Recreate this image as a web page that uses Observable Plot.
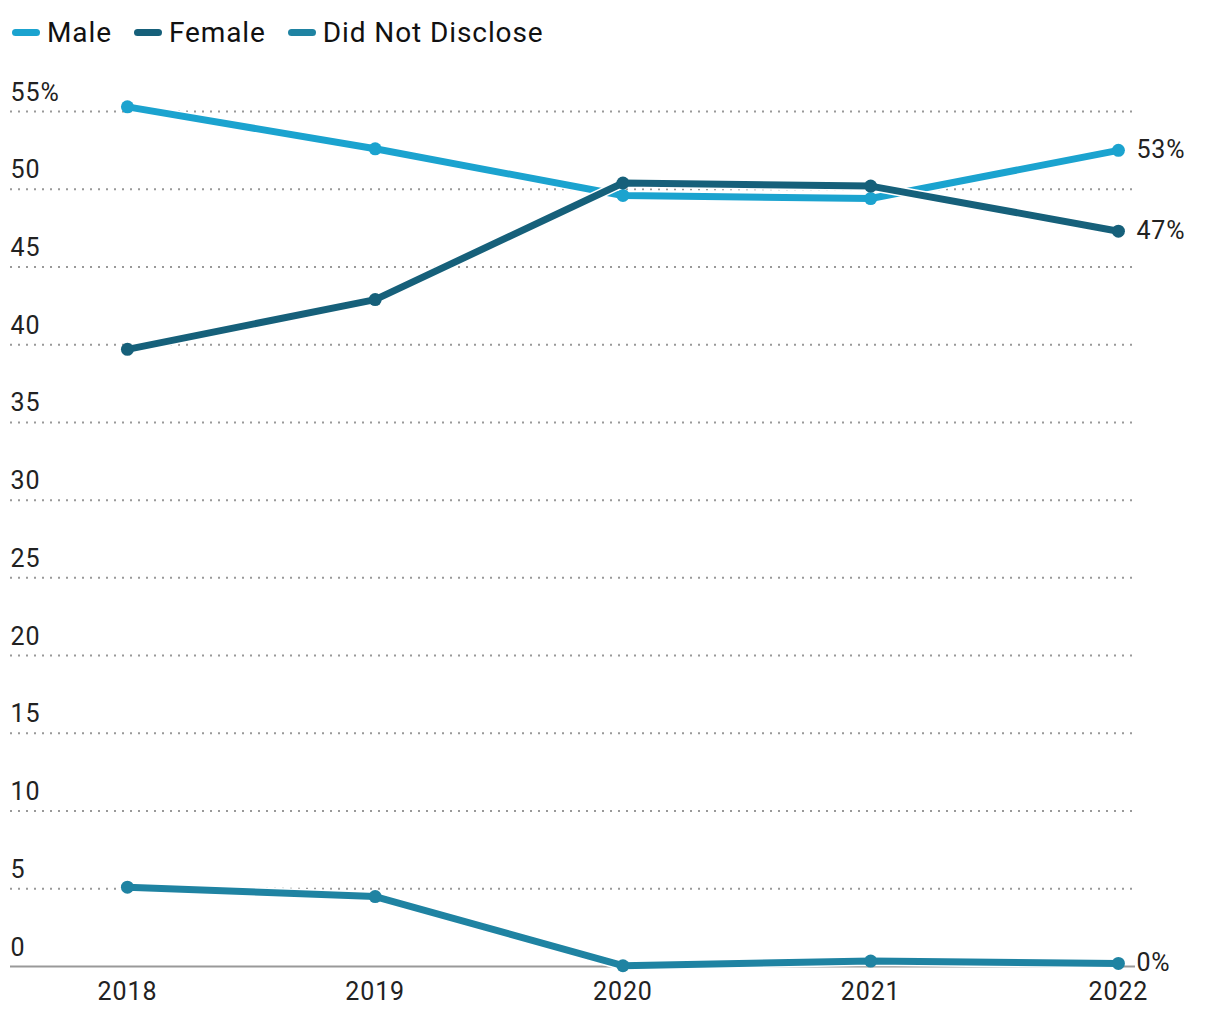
<!DOCTYPE html>
<html>
<head>
<meta charset="utf-8">
<script src="https://cdn.jsdelivr.net/npm/d3@7"></script>
<script src="https://cdn.jsdelivr.net/npm/@observablehq/plot@0.6"></script>
<style>
  body { margin: 0; background: #fff; font-family: Roboto, "Noto Sans", sans-serif; }
  #legend { height: 60px; display: flex; align-items: center; padding-left: 12px; padding-top: 5px; box-sizing: border-box; font-size: 28px; font-weight: 400; color: #111; letter-spacing: 0.9px; }
  .item { display: flex; align-items: center; margin-right: 22px; }
  .sw { width: 28px; height: 7px; border-radius: 4px; margin-right: 7px; }
  svg text { letter-spacing: 0.9px; }
</style>
</head>
<body>
<div id="legend"></div>
<div id="chart"></div>
<script>
const years = [2018, 2019, 2020, 2021, 2022];
const male = [55.3, 52.6, 49.6, 49.4, 52.5];
const female = [39.7, 42.9, 50.4, 50.2, 47.3];
const notDisclosed = [5.1, 4.5, 0.05, 0.35, 0.2];
const seriesNames = ["Male", "Female", "Did Not Disclose"];
const seriesColors = ["#1ba3cf", "#16607a", "#1f83a2"];
const endLabels = ["53%", "47%", "0%"];
const yTicks = [0, 5, 10, 15, 20, 25, 30, 35, 40, 45, 50, 55];

const seriesValues = [male, female, notDisclosed];
const data = [];
seriesValues.forEach((vals, i) => vals.forEach((v, j) => data.push({series: seriesNames[i], year: years[j], value: v})));

const legend = document.getElementById("legend");
seriesNames.forEach((n, i) => {
  const it = document.createElement("div");
  it.className = "item";
  it.innerHTML = `<span class="sw" style="background:${seriesColors[i]}"></span><span>${n}</span>`;
  legend.appendChild(it);
});

const xMin = 2017.528, xMax = 2022.069;
const marks = [
  Plot.ruleY(yTicks.filter(d => d > 0), {stroke: "#999", strokeWidth: 2, strokeDasharray: "2,6"}),
  Plot.ruleY([0], {stroke: "#999", strokeWidth: 2}),
  Plot.text(yTicks, {x: xMin, y: d => d, text: d => d === 55 ? "55%" : String(d), textAnchor: "start", dy: -19, fontSize: 25, fill: "#222"}),
];
seriesNames.forEach((n, i) => {
  const d = data.filter(r => r.series === n);
  marks.push(Plot.line(d, {x: "year", y: "value", stroke: "white", strokeWidth: 10, strokeLinejoin: "round"}));
  marks.push(Plot.line(d, {x: "year", y: "value", stroke: seriesColors[i], strokeWidth: 7, strokeLinejoin: "round"}));
  marks.push(Plot.dot(d, {x: "year", y: "value", fill: seriesColors[i], r: 6.5}));
  marks.push(Plot.text(d.slice(-1), {x: "year", y: "value", text: () => endLabels[i], textAnchor: "start", dx: 18, fontSize: 25, fill: "#222"}));
});

const chart = Plot.plot({
  width: 1220,
  height: 960,
  marginLeft: 10,
  marginRight: 85,
  marginTop: 51,
  marginBottom: 54,
  style: {fontFamily: "Roboto, 'Noto Sans', sans-serif", background: "white"},
  x: {domain: [xMin, xMax], ticks: years, tickFormat: d => String(d), tickSize: 0, tickPadding: 16, fontSize: 25, label: null},
  y: {domain: [0, 55], axis: null},
  marks
});
chart.querySelectorAll("g[aria-label='x-axis tick label']").forEach(e => { e.setAttribute("font-size", "25"); e.setAttribute("fill", "#222"); });
document.getElementById("chart").appendChild(chart);
</script>
</body>
</html>
